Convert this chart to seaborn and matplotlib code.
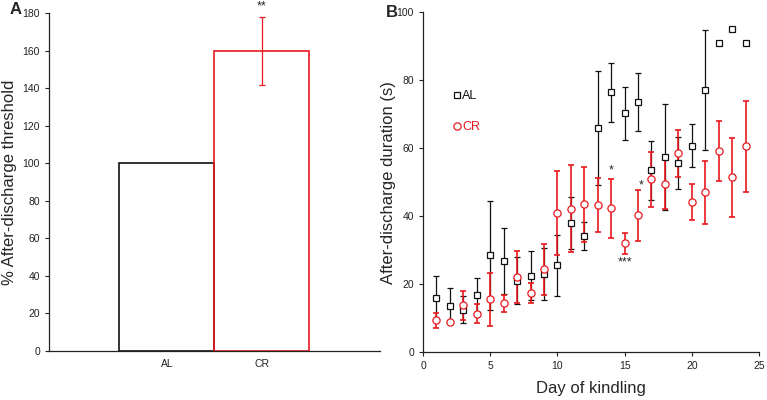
import numpy as np
import pandas as pd
import matplotlib
matplotlib.use('Agg')
import matplotlib.pyplot as plt
import seaborn as sns

# Panel A data
groups = ['AL', 'CR']
threshold = [100, 160]
threshold_err = [0, 18]

# Panel B data
days = list(range(1, 25))
al_mean = [16.0, 13.5, 12.5, 16.8, 28.5, 26.8, 21.0, 22.5, 23.0, 25.5, 38.0, 34.2,
           66.0, 76.5, 70.3, 73.7, 53.5, 57.3, 55.7, 60.8, 77.2, 91.0, 95.0, 91.0]
al_err = [6.5, 5.3, 4.0, 4.9, 16.0, 9.8, 7.0, 7.3, 7.7, 9.0, 7.6, 4.2,
          16.7, 8.7, 7.8, 8.6, 8.7, 15.6, 7.6, 6.3, 17.7, 0, 0, 0]
cr_mean = [9.3, 8.7, 13.7, 11.3, 15.5, 14.3, 22.0, 17.3, 24.3, 41.0, 42.2, 43.5,
           43.3, 42.3, 32.0, 40.2, 50.8, 49.5, 58.5, 44.2, 47.0, 59.2, 51.4, 60.6]
cr_err = [2.1, 0.5, 4.3, 2.7, 7.7, 2.5, 7.7, 3.0, 7.4, 12.4, 12.8, 11.0,
          8.0, 8.7, 3.0, 7.4, 8.0, 7.5, 7.0, 5.2, 9.2, 8.8, 11.6, 13.4]

RED = '#e8191f'
BLACK = '#111111'

sns.set_style('ticks')
plt.rcParams['font.family'] = ['Liberation Sans', 'DejaVu Sans']

fig = plt.figure(figsize=(7.67, 4), dpi=100)
ax1 = fig.add_axes([0.0639, 0.1225, 0.4311, 0.8445])
ax2 = fig.add_axes([0.5515, 0.12, 0.4381, 0.849])

# Panel A: bar chart
df_a = pd.DataFrame({'group': groups, 'value': threshold})
sns.barplot(data=df_a, x='group', y='value', hue='group', palette=[BLACK, RED],
            fill=False, width=1.0, linewidth=1.2, legend=False, ax=ax1)
ax1.errorbar([1], [threshold[1]], yerr=[threshold_err[1]], fmt='none',
             ecolor=RED, elinewidth=0.9, capsize=2.5, capthick=0.9)
ax1.set_xlim(-1.24, 2.24)
ax1.set_ylim(0, 180)
ax1.set_yticks(range(0, 181, 20))
ax1.set_xlabel('')
ax1.set_ylabel('% After-discharge threshold', fontsize=12)
ax1.yaxis.set_label_coords(-0.097, 0.5)
ax1.tick_params(axis='x', length=0, pad=6, labelsize=7.5, colors='#222222')
ax1.tick_params(axis='y', length=3, width=0.8, labelsize=7.5, colors='#222222')
ax1.text(1, 183.5, '**', ha='center', va='center', fontsize=9, clip_on=False)
for s in ['top', 'right']:
    ax1.spines[s].set_visible(False)
for s in ['left', 'bottom']:
    ax1.spines[s].set_linewidth(0.9)
    ax1.spines[s].set_color('#222222')

# Panel B: kindling time course
ax2.errorbar(days, al_mean, yerr=al_err, fmt='none', ecolor=BLACK,
             elinewidth=0.9, capsize=2.5, capthick=0.9)
ax2.errorbar(days, cr_mean, yerr=cr_err, fmt='none', ecolor=RED,
             elinewidth=1.2, capsize=2.5, capthick=1.2)
sns.lineplot(x=days, y=al_mean, marker='s', linestyle='', color=BLACK,
             mfc='white', mec=BLACK, ms=5, mew=0.9, errorbar=None, label='AL', ax=ax2)
sns.lineplot(x=days, y=cr_mean, marker='o', linestyle='', color=RED,
             mfc='white', mec=RED, ms=5.2, mew=0.9, errorbar=None, label='CR', ax=ax2)
ax2.legend(loc='upper left', bbox_to_anchor=(0.09, 0.771), frameon=False,
           fontsize=9, handlelength=0.6, handletextpad=0.1, labelspacing=1.5,
           borderaxespad=0, borderpad=0, labelcolor=[BLACK, RED])
ax2.text(14, 53.5, '*', ha='center', va='center', fontsize=9)
ax2.text(16.2, 49.0, '*', ha='center', va='center', fontsize=9)
ax2.text(15, 26.5, '***', ha='center', va='center', fontsize=9)
ax2.set_xlim(0, 25)
ax2.set_ylim(0, 100)
ax2.set_xticks(range(0, 26, 5))
ax2.set_yticks(range(0, 101, 20))
ax2.set_xlabel('Day of kindling', fontsize=12)
ax2.set_ylabel('After-discharge duration (s)', fontsize=12)
ax2.xaxis.set_label_coords(0.5, -0.085)
ax2.yaxis.set_label_coords(-0.080, 0.5)
ax2.tick_params(length=3, width=0.8, labelsize=7.5, colors='#222222')
for s in ['top', 'right']:
    ax2.spines[s].set_visible(False)
for s in ['left', 'bottom']:
    ax2.spines[s].set_linewidth(0.9)
    ax2.spines[s].set_color('#222222')

fig.text(0.013, 0.975, 'A', fontsize=12, fontweight='bold', va='center', ha='left')
fig.text(0.503, 0.968, 'B', fontsize=12, fontweight='bold', va='center', ha='left')

fig.savefig('out.png', dpi=100)
